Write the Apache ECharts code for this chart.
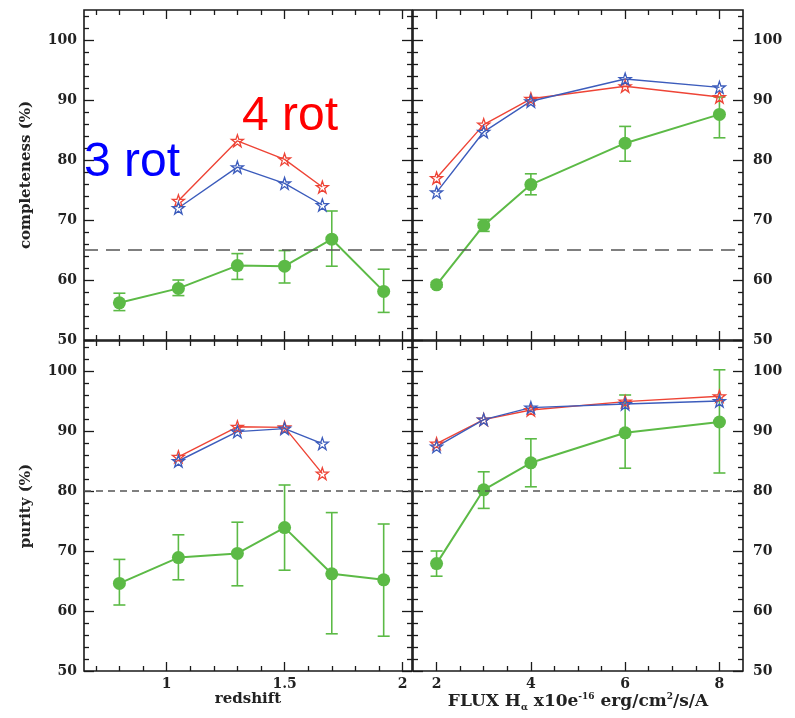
<!DOCTYPE html>
<html>
<head>
<meta charset="utf-8">
<script src="https://cdn.jsdelivr.net/npm/echarts@6/dist/echarts.min.js"></script>
<style>
html, body { margin: 0; padding: 0; background: #fff; }
#chart { width: 795px; height: 718px; }
</style>
</head>
<body>
<div id="chart"></div>
<script>
/* data */
var redshiftBins = [0.8, 1.05, 1.3, 1.5, 1.7, 1.92];
var redshiftRot = [1.05, 1.3, 1.5, 1.66];
var fluxBins = [2, 3, 4, 6, 8];

var complZ = [56.2, 58.6, 62.4, 62.3, 66.8, 58.1];
var complZLo = [54.9, 57.4, 60.1, 59.5, 62.3, 54.6];
var complZHi = [57.8, 60.0, 64.4, 64.9, 71.5, 61.8];
var compl4rotZ = [73.2, 83.2, 80.1, 75.5];
var compl3rotZ = [72.0, 78.8, 76.1, 72.5];

var complF = [59.2, 69.1, 75.9, 82.8, 87.6];
var complFLo = [58.8, 68.1, 74.2, 79.8, 83.7];
var complFHi = [59.6, 70.1, 77.7, 85.6, 90.5];
var compl4rotF = [77.0, 85.9, 90.2, 92.3, 90.5];
var compl3rotF = [74.6, 84.7, 89.8, 93.5, 92.1];

var purZ = [64.6, 68.9, 69.6, 73.9, 66.2, 65.2];
var purZLo = [61.0, 65.2, 64.2, 66.8, 56.2, 55.8];
var purZHi = [68.6, 72.7, 74.8, 81.0, 76.4, 74.5];
var pur4rotZ = [85.7, 90.7, 90.6, 82.9];
var pur3rotZ = [85.0, 89.9, 90.4, 87.9];

var purF = [67.9, 80.2, 84.7, 89.7, 91.5];
var purFLo = [65.8, 77.1, 80.7, 83.8, 83.0];
var purFHi = [70.0, 83.2, 88.7, 96.0, 100.2];
var pur4rotF = [87.9, 91.9, 93.5, 94.9, 95.8];
var pur3rotF = [87.4, 91.9, 93.9, 94.5, 95.0];

var complLimit = 65;
var purLimit = 80;

/* tick positions */
var yMajor = [50, 60, 70, 80, 90, 100];
var yMinor = [52, 54, 56, 58, 62, 64, 66, 68, 72, 74, 76, 78, 82, 84, 86, 88, 92, 94, 96, 98, 102, 104];
var zMajor = [1, 1.5, 2];
var zMinor = [0.7, 0.8, 0.9, 1.1, 1.2, 1.3, 1.4, 1.6, 1.7, 1.8, 1.9];
var fMajor = [2, 4, 6, 8];
var fMinor = [2.5, 3, 3.5, 4.5, 5, 5.5, 6.5, 7, 7.5];

var GREEN = '#5cba46';
var RED = '#ee4436';
var BLUE = '#3c5cbc';
var INK = '#1a1a1a';
var FONT = 'DejaVu Serif';
var STAR = 'path://M50,2 L61.8,36.2 L97.6,36.2 L68.6,57.4 L79.4,91.6 L50,70.6 L20.6,91.6 L31.4,57.4 L2.4,36.2 L38.2,36.2 Z';

var chart = echarts.init(document.getElementById('chart'));

var grids = [
    {left: 84, top: 10, width: 328, height: 330},
    {left: 413, top: 10, width: 330, height: 330},
    {left: 84, top: 341, width: 328, height: 330},
    {left: 413, top: 341, width: 330, height: 330}
];
grids.forEach(function (g) {
    g.show = true;
    g.borderColor = INK;
    g.borderWidth = 1.6;
    g.backgroundColor = 'transparent';
    g.containLabel = false;
});

var xAxes = [];
var yAxes = [];

function tickAxis(list, gi, pos, min, max, vals, len, label, name) {
    var ax = {
        type: 'value',
        gridIndex: gi,
        position: pos,
        min: min,
        max: max,
        splitLine: {show: false},
        axisLine: {show: false, onZero: false},
        axisTick: {show: true, inside: true, length: len, customValues: vals,
            lineStyle: {color: INK, width: 1.3}},
        axisLabel: {show: false}
    };
    if (label) {
        ax.axisLabel = {show: true, customValues: vals, fontFamily: FONT, fontWeight: 'bold',
            fontSize: 14, color: '#222', margin: label.margin};
    }
    if (name) {
        for (var k in name) ax[k] = name[k];
    }
    list.push(ax);
    return list.length - 1;
}

// build all tick axes for one panel; returns the axis indices used for series
function panel(gi, xmin, xmax, xMaj, xMin, opts) {
    var xi = tickAxis(xAxes, gi, 'bottom', xmin, xmax, xMaj, 9,
        opts.xLabels ? {margin: 6} : null, opts.xName || null);
    tickAxis(xAxes, gi, 'bottom', xmin, xmax, xMin, 5);
    tickAxis(xAxes, gi, 'top', xmin, xmax, xMaj, 9);
    tickAxis(xAxes, gi, 'top', xmin, xmax, xMin, 5);
    var yi = tickAxis(yAxes, gi, opts.ySide, 50, 105, yMajor, 10,
        {margin: opts.ySide === 'left' ? 7 : 10}, opts.yName || null);
    tickAxis(yAxes, gi, opts.ySide, 50, 105, yMinor, 5);
    var other = opts.ySide === 'left' ? 'right' : 'left';
    tickAxis(yAxes, gi, other, 50, 105, yMajor, 10);
    tickAxis(yAxes, gi, other, 50, 105, yMinor, 5);
    return {x: xi, y: yi};
}

function yTitle(text) {
    return {
        name: text, nameLocation: 'middle', nameRotate: 90, nameGap: 50,
        nameTextStyle: {fontFamily: FONT, fontWeight: 'bold', fontSize: 15, color: '#222'}
    };
}

var fluxName = {
    name: '{n|FLUX H}{sub|α}{n| x10e}{sup|-16}{n| erg/cm}{sup|2}{n|/s/A}',
    nameLocation: 'middle',
    nameGap: 21,
    nameTextStyle: {
        fontFamily: FONT, fontSize: 17, color: '#222',
        rich: {
            n: {fontFamily: FONT, fontWeight: 'bold', fontSize: 17, color: '#222', lineHeight: 20},
            sub: {fontFamily: FONT, fontWeight: 'bold', fontSize: 9, color: '#222', lineHeight: 20, verticalAlign: 'bottom', padding: [6, 0, 0, 0]},
            sup: {fontFamily: FONT, fontWeight: 'bold', fontSize: 9, color: '#222', lineHeight: 20, verticalAlign: 'top', padding: [0, 0, 6, 0]}
        }
    }
};

var redshiftName = {
    name: 'redshift', nameLocation: 'middle', nameGap: 20,
    nameTextStyle: {fontFamily: FONT, fontWeight: 'bold', fontSize: 15, color: '#222'}
};

var pTL = panel(0, 0.65, 2.04, zMajor, zMinor, {ySide: 'left', yName: yTitle('completeness (%)')});
var pTR = panel(1, 1.5, 8.5, fMajor, fMinor, {ySide: 'right'});
var pBL = panel(2, 0.65, 2.04, zMajor, zMinor, {ySide: 'left', yName: yTitle('purity (%)'),
    xLabels: true, xName: redshiftName});
var pBR = panel(3, 1.5, 8.5, fMajor, fMinor, {ySide: 'right', xLabels: true, xName: fluxName});

function zip(xs, ys) {
    return xs.map(function (x, i) { return [x, ys[i]]; });
}

function greenLine(p, xs, ys, limit, dash) {
    return {
        type: 'line', xAxisIndex: p.x, yAxisIndex: p.y,
        data: zip(xs, ys),
        symbol: 'circle', symbolSize: 13,
        lineStyle: {color: GREEN, width: 2},
        itemStyle: {color: GREEN},
        z: 3,
        markLine: {
            silent: true, symbol: 'none', label: {show: false},
            lineStyle: {color: '#555', width: 1.6, type: dash},
            data: [{yAxis: limit}]
        }
    };
}

function errorBars(p, xs, lo, hi) {
    return {
        type: 'custom', xAxisIndex: p.x, yAxisIndex: p.y,
        data: xs.map(function (x, i) { return [x, lo[i], hi[i]]; }),
        encode: {x: 0, y: [1, 2]},
        z: 2,
        renderItem: function (params, api) {
            var x = api.value(0);
            var a = api.coord([x, api.value(1)]);
            var b = api.coord([x, api.value(2)]);
            var w = 6;
            var st = {stroke: GREEN, lineWidth: 1.6};
            return {
                type: 'group',
                children: [
                    {type: 'line', shape: {x1: a[0], y1: a[1], x2: b[0], y2: b[1]}, style: st},
                    {type: 'line', shape: {x1: a[0] - w, y1: a[1], x2: a[0] + w, y2: a[1]}, style: st},
                    {type: 'line', shape: {x1: b[0] - w, y1: b[1], x2: b[0] + w, y2: b[1]}, style: st}
                ]
            };
        }
    };
}

function starLine(p, xs, ys, color) {
    return {
        type: 'line', xAxisIndex: p.x, yAxisIndex: p.y,
        data: zip(xs, ys),
        symbol: STAR, symbolSize: 12,
        lineStyle: {color: color, width: 1.4},
        itemStyle: {color: 'rgba(255,255,255,0)', borderColor: color, borderWidth: 1.3},
        z: 4
    };
}

var longDash = [14, 8];
var shortDash = [7, 5];

var series = [
    errorBars(pTL, redshiftBins, complZLo, complZHi),
    greenLine(pTL, redshiftBins, complZ, complLimit, longDash),
    starLine(pTL, redshiftRot, compl4rotZ, RED),
    starLine(pTL, redshiftRot, compl3rotZ, BLUE),

    errorBars(pTR, fluxBins, complFLo, complFHi),
    greenLine(pTR, fluxBins, complF, complLimit, longDash),
    starLine(pTR, fluxBins, compl4rotF, RED),
    starLine(pTR, fluxBins, compl3rotF, BLUE),

    errorBars(pBL, redshiftBins, purZLo, purZHi),
    greenLine(pBL, redshiftBins, purZ, purLimit, shortDash),
    starLine(pBL, redshiftRot, pur4rotZ, RED),
    starLine(pBL, redshiftRot, pur3rotZ, BLUE),

    errorBars(pBR, fluxBins, purFLo, purFHi),
    greenLine(pBR, fluxBins, purF, purLimit, shortDash),
    starLine(pBR, fluxBins, pur4rotF, RED),
    starLine(pBR, fluxBins, pur3rotF, BLUE)
];

var option = {
    animation: false,
    backgroundColor: '#fff',
    grid: grids,
    xAxis: xAxes,
    yAxis: yAxes,
    series: series,
    graphic: [
        {type: 'text', left: 84, top: 139, z: 10,
            style: {text: '3 rot', fill: '#0000ff', font: '48px "Liberation Sans"'}},
        {type: 'text', left: 242, top: 93, z: 10,
            style: {text: '4 rot', fill: '#ff0000', font: '48px "Liberation Sans"'}}
    ]
};
chart.setOption(option);
</script>
</body>
</html>
